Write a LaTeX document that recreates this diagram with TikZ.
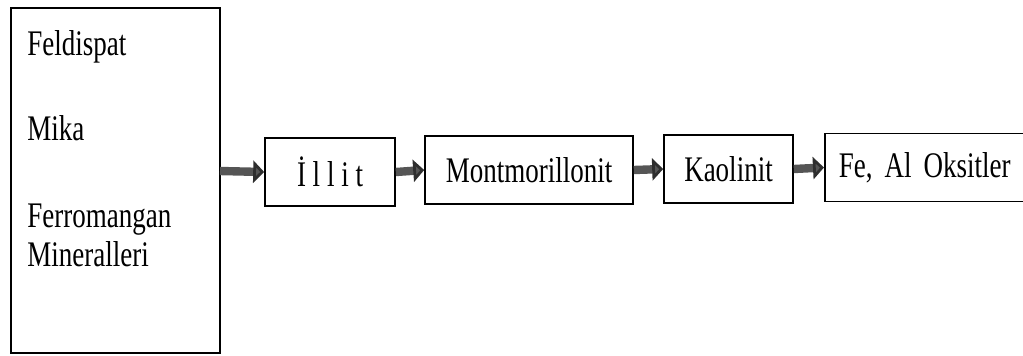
\documentclass[tikz,border=0pt]{standalone}
\usepackage{fontspec}
\setmainfont[FakeStretch=0.75]{Liberation Serif}
\usetikzlibrary{arrows.meta}
\definecolor{flowGray}{HTML}{555555}
\definecolor{flowEdge}{HTML}{2E2E2E}
\frenchspacing

\tikzset{
  stagebox/.style={draw=black, line width=0.8pt, minimum height=34pt,
    inner sep=0pt, font=\fontsize{18}{20}\selectfont},
  label/.style={anchor=base west, inner sep=0pt, font=\fontsize{18}{20}\selectfont},
  flow/.style={line width=4.2pt, draw=flowGray,
    -{Triangle[length=5.5pt, width=11pt, fill=flowGray, color=flowEdge]}}
}

\begin{document}
\begin{tikzpicture}[x=0.5pt, y=-0.5pt]
  \useasboundingbox (0,0) rectangle (1023,355);
  \draw[line width=0.8pt] (11,8) rectangle (220,353);
  \node[label] (feld) at (27,55) {Feldispat};
  \node[label] (mika) at (27,140) {Mika};
  \node[label] (ferro) at (27,227) {Ferromangan};
  \node[label] (miner) at (27,266) {Mineralleri};
  \coordinate (src) at (220,171);

  \node[stagebox, minimum width=65pt] (illit) at (330,172) {İ l l i t};
  \node[stagebox, minimum width=104pt] (mont) at (529,170) {Montmorillonit};
  \node[stagebox, minimum width=64.5pt] (kao) at (728.5,169) {Kaolinit};
  \node[stagebox, minimum width=110pt, anchor=west, text width=100pt] (oks) at (824,167.5)
    {\hspace*{2pt}Fe, Al Oksitler};

  \draw[flow] (src) -- (illit.west);
  \draw[flow] (illit.east) -- (mont.west);
  \draw[flow] (mont.east) -- (kao.west);
  \draw[flow] (kao.east) -- (oks.west);
\end{tikzpicture}
\end{document}
